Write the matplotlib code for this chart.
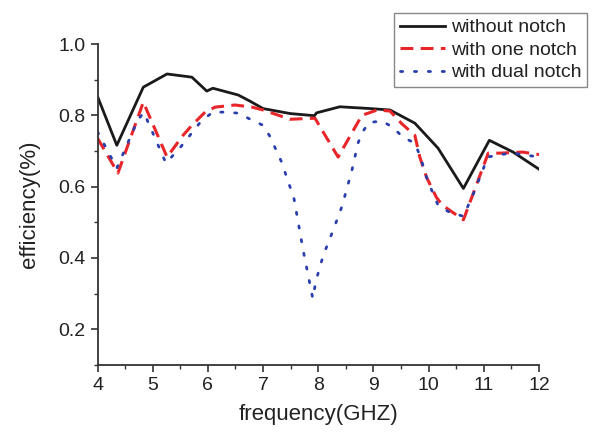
import matplotlib
matplotlib.use('Agg')
import matplotlib.pyplot as plt
from matplotlib.ticker import MultipleLocator

plt.rcParams['font.family'] = ['Liberation Sans', 'DejaVu Sans']

# values
freq_none = [4.0, 4.35, 4.83, 5.26, 5.71, 5.98, 6.09, 6.55, 6.76, 7.0, 7.49,
             7.93, 7.97, 8.39, 8.94, 9.3, 9.75, 10.17, 10.63, 11.1, 11.53, 12.0]
eff_none = [0.853, 0.716, 0.879, 0.916, 0.907, 0.868, 0.876, 0.857, 0.84, 0.819, 0.805,
            0.799, 0.807, 0.824, 0.819, 0.815, 0.778, 0.708, 0.595, 0.73, 0.697, 0.649]

freq_one = [4.0, 4.37, 4.83, 5.26, 5.55, 5.71, 5.95, 6.13, 6.49, 6.8, 7.0, 7.49,
            7.94, 8.36, 8.79, 9.07, 9.3, 9.51, 9.75, 9.84, 9.96, 10.14, 10.25,
            10.63, 11.08, 11.3, 11.7, 12.0]
eff_one = [0.736, 0.638, 0.837, 0.683, 0.744, 0.772, 0.809, 0.823, 0.829, 0.823, 0.815, 0.789,
           0.792, 0.683, 0.8, 0.815, 0.812, 0.777, 0.744, 0.683, 0.627, 0.57, 0.548,
           0.507, 0.694, 0.694, 0.697, 0.69]

freq_dual = [4.0, 4.35, 4.73, 4.84, 5.24, 5.5, 5.88, 6.09, 6.33, 6.56, 6.79, 7.0,
             7.12, 7.33, 7.56, 7.72, 7.81, 7.9, 7.96, 8.09, 8.27, 8.43, 8.61, 8.72,
             8.8, 8.92, 9.15, 9.35, 9.53, 9.75, 9.84, 9.98, 10.17, 10.38, 10.63,
             10.8, 10.98, 11.07, 11.3, 11.53, 12.0]
eff_dual = [0.754, 0.652, 0.787, 0.808, 0.666, 0.71, 0.784, 0.809, 0.809, 0.806, 0.787, 0.772,
            0.742, 0.671, 0.567, 0.427, 0.357, 0.287, 0.337, 0.407, 0.478, 0.545, 0.646, 0.722,
            0.753, 0.78, 0.784, 0.767, 0.739, 0.722, 0.688, 0.618, 0.548, 0.528, 0.517,
            0.576, 0.646, 0.683, 0.69, 0.694, 0.683]

labels = ['without notch', 'with one notch', 'with dual notch']

fig = plt.figure(figsize=(5.92, 4.34), dpi=100)
ax = fig.add_axes([0.1647, 0.159, 0.7458, 0.7396])

ax.plot(freq_none, eff_none, color='#1a1a1a', lw=2.0, label=labels[0])
ax.plot(freq_one, eff_one, color='#e8262a', lw=2.2, linestyle=(0, (4.2, 2.4)), label=labels[1])
ax.plot(freq_dual, eff_dual, color='#2a3fae', lw=2.0, linestyle=(0, (0.8, 4.2)),
        dash_capstyle='round', label=labels[2])

ax.set_xlim(4, 12)
ax.set_ylim(0.1, 1.0)
ax.xaxis.set_major_locator(MultipleLocator(1))
ax.xaxis.set_minor_locator(MultipleLocator(0.5))
ax.yaxis.set_minor_locator(MultipleLocator(0.1))
ax.set_yticks([0.2, 0.4, 0.6, 0.8, 1.0])
ax.set_yticklabels(['0.2', '0.4', '0.6', '0.8', '1.0'])

for side in ['top', 'right']:
    ax.spines[side].set_visible(False)
for side in ['left', 'bottom']:
    ax.spines[side].set_color('#333333')
    ax.spines[side].set_linewidth(1.3)

ax.tick_params(which='major', direction='out', length=5, width=1.2, color='#333333',
               labelsize=14, labelcolor='#222222')
ax.tick_params(which='minor', direction='out', length=3, width=1.0, color='#333333')

ax.set_xlabel('frequency(GHZ)', fontsize=16, color='#222222', labelpad=7)
ax.set_ylabel('efficiency(%)', fontsize=16, color='#222222', labelpad=13)

leg = fig.legend(loc='upper right', bbox_to_anchor=(0.9916, 0.970), borderaxespad=0,
                 fontsize=14, handlelength=2.3, handletextpad=0.3, labelspacing=0.25,
                 borderpad=0.3, fancybox=False, framealpha=1)
leg.get_frame().set_edgecolor('#888888')
leg.get_frame().set_linewidth(1.0)
for t in leg.get_texts():
    t.set_color('#222222')

fig.savefig('out.png', dpi=100)
